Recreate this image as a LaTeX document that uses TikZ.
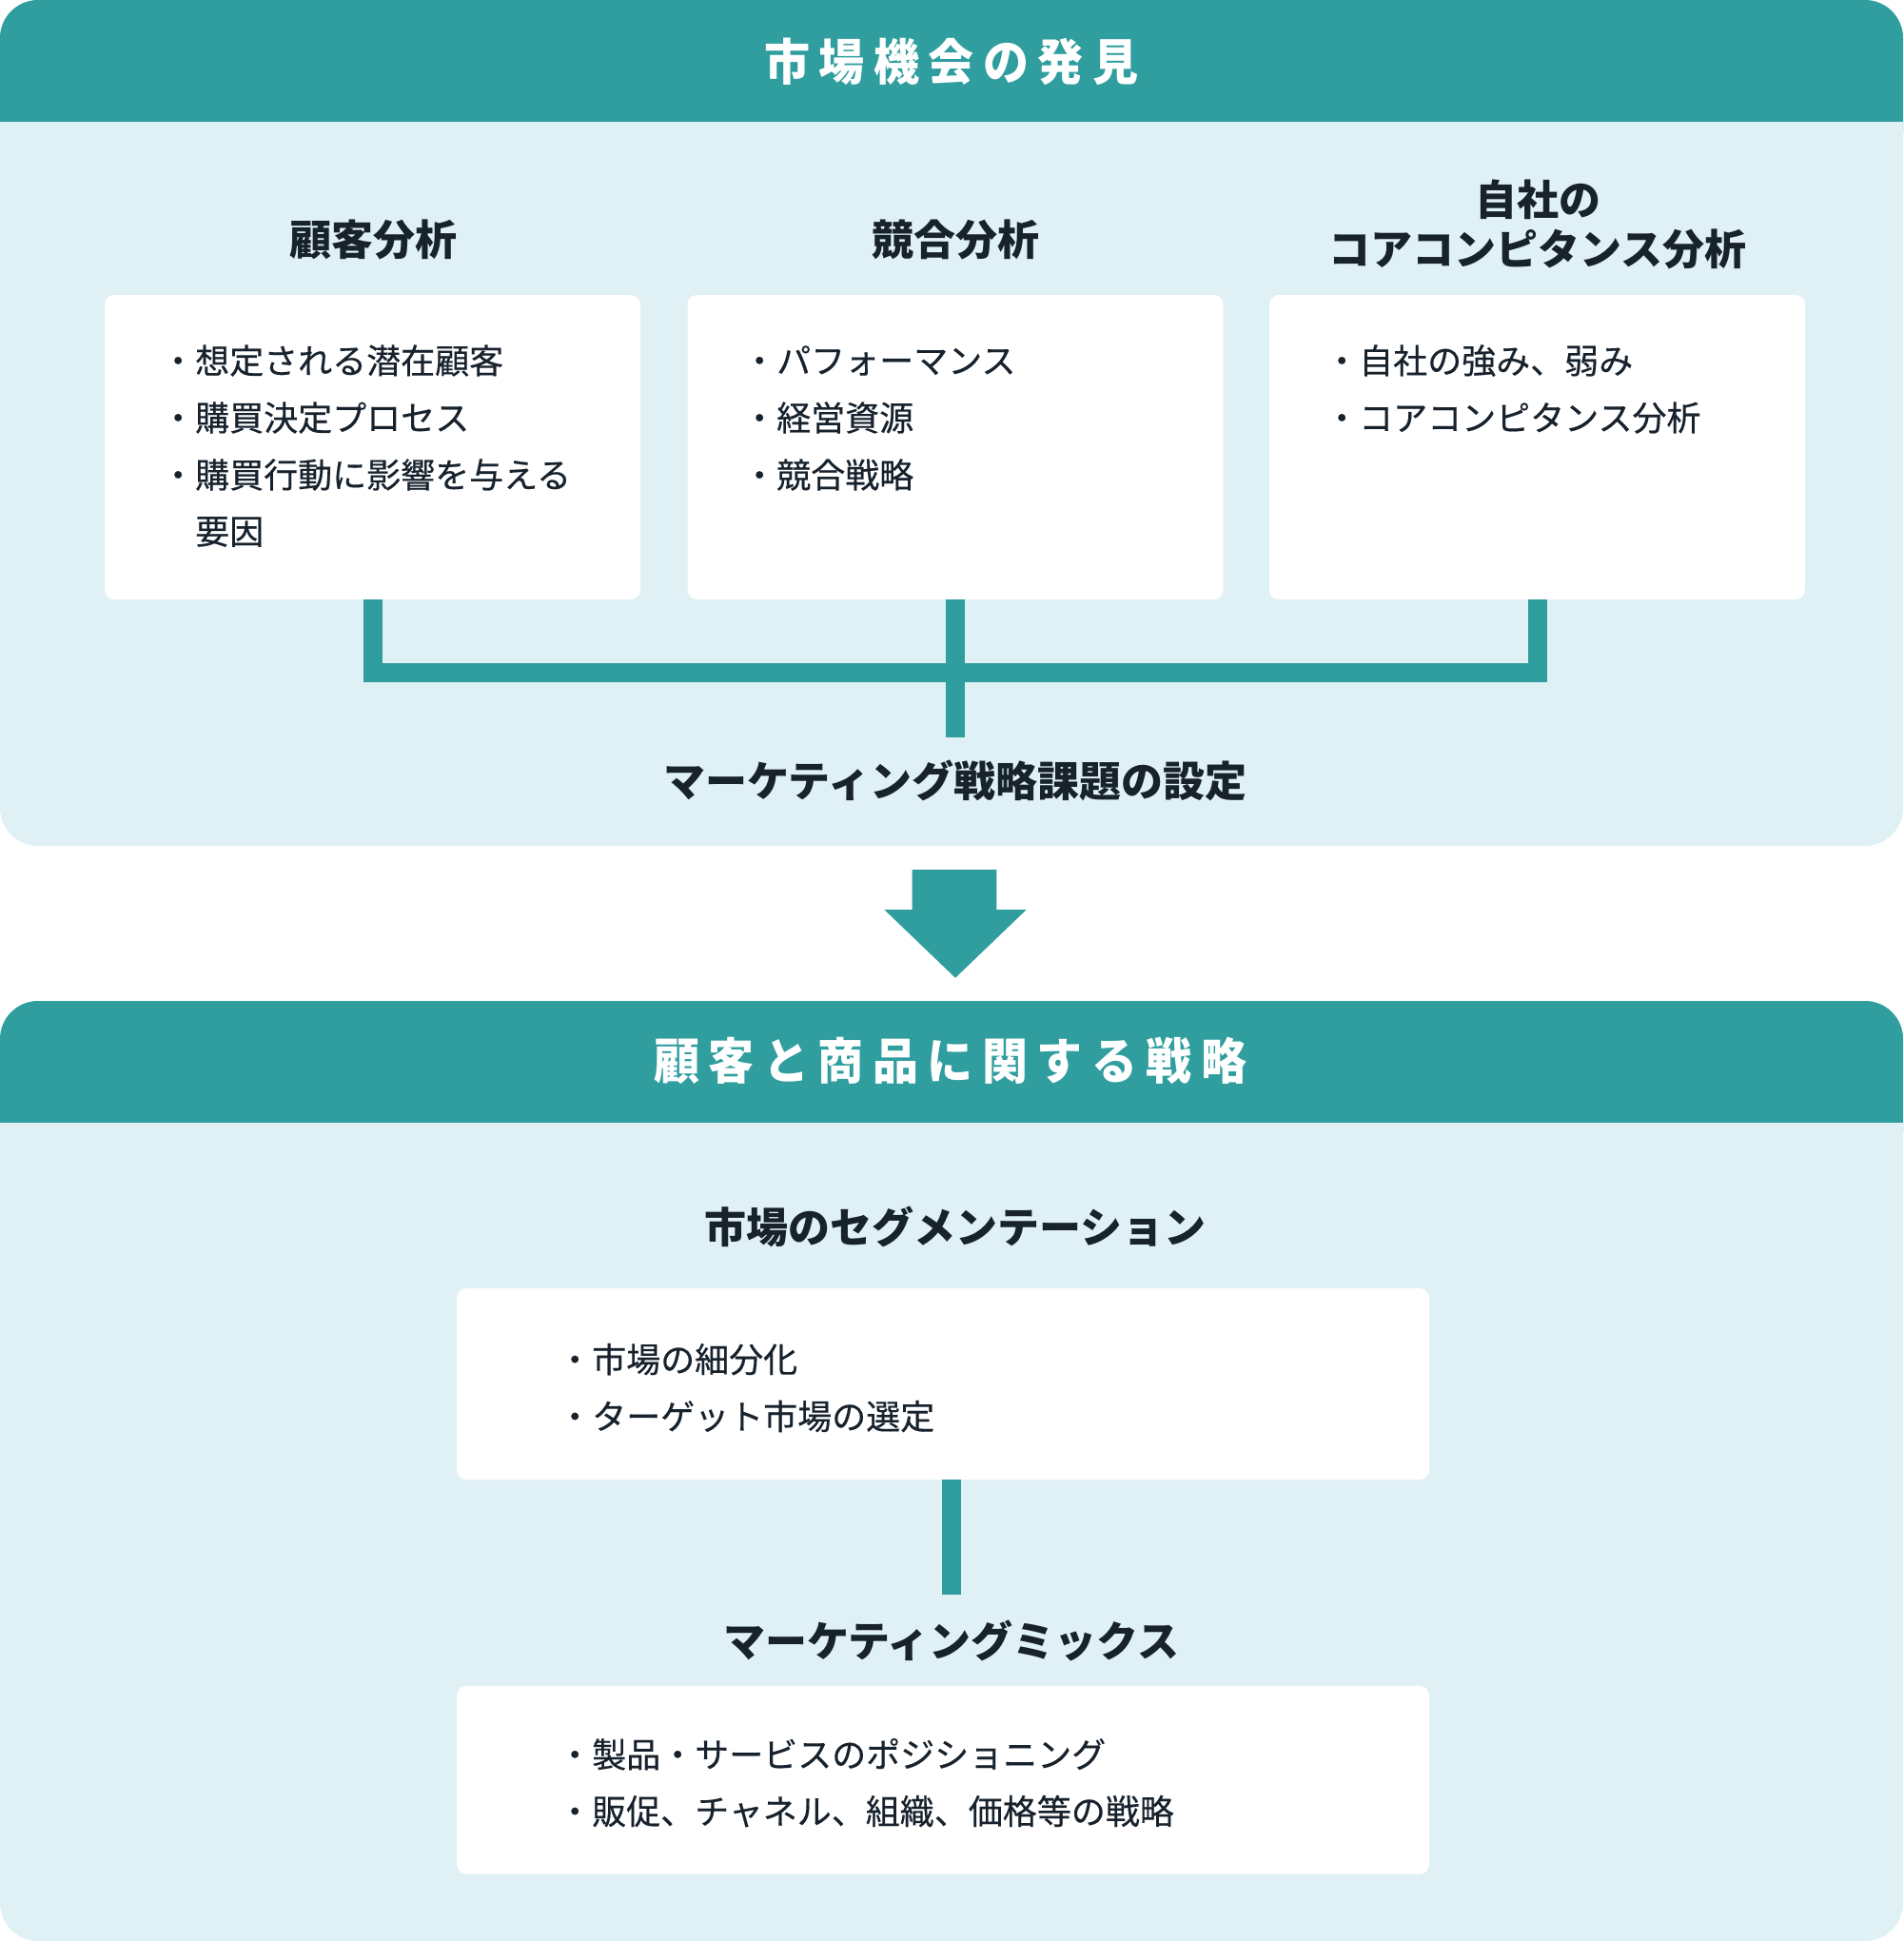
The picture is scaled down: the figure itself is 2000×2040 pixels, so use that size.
\documentclass[tikz,border=0pt]{standalone}
\usepackage{graphicx}
\usepackage{fontspec}
\setmainfont{Noto Sans CJK JP}
\newfontfamily\itemfont{Noto Sans CJK JP}[FakeBold=0.4]
\usetikzlibrary{calc}
\definecolor{mteal}{HTML}{309D9F}
\definecolor{mlight}{HTML}{DFF1F5}
\definecolor{mink}{HTML}{17222D}
\newcommand\lsp{\kern9.5pt}
\newcommand\tallhdr[1]{\scalebox{1}[1.08]{#1}}
\begin{document}
\begin{tikzpicture}[x=1pt,y=-1pt,
  hdrtext/.style={inner sep=0pt, text=white, font=\fontsize{48}{58}\selectfont\bfseries},
  title/.style={inner sep=0pt, text=mink, align=center, font=\fontsize{44}{52}\selectfont\bfseries},
  card/.style={rectangle, fill=white, rounded corners=10pt, inner sep=0pt, minimum width=563pt, minimum height=320pt},
  wcard/.style={rectangle, fill=white, rounded corners=10pt, inner sep=0pt, minimum width=1022pt},
  item/.style={anchor=west, inner sep=0pt, text=mink, font=\itemfont\fontsize{36}{36}\selectfont},
  conn/.style={draw=mteal, line width=20pt, line join=miter}]
\useasboundingbox (0,0) rectangle (2000,2040);

% ---------- top panel ----------
\fill[mlight, rounded corners=40pt] (0,0) rectangle (2000,889);
\fill[mteal, rounded corners=40pt] (0,0) rectangle (2000,180);
\fill[mlight] (0,127.5) rectangle (2000,200);
\node[hdrtext] (h1) at (1000,65) {\tallhdr{市\lsp 場\lsp 機\lsp 会\lsp の\lsp 発\lsp 見}};

\node[title] (t1) at (392,252) {顧客分析};
\node[title] (t2) at (1004,252) {競合分析};
\node[title] (t3) at (1616,236) {自社の\\コアコンピタンス分析};

\node[card] (c1) at (391.5,470) {};
\node[card] (c2) at (1004,470) {};
\node[card] (c3) at (1615.5,470) {};

\node[item] (i11) at (169,379) {・想定される潜在顧客};
\node[item] (i12) at (169,439) {・購買決定プロセス};
\node[item] (i13) at (169,499) {・購買行動に影響を与える};
\node[item] (i14) at (205,559) {要因};

\node[item] (i21) at (780,379) {・パフォーマンス};
\node[item] (i22) at (780,439) {・経営資源};
\node[item] (i23) at (780,499) {・競合戦略};

\node[item] (i31) at (1392,379) {・自社の強み、弱み};
\node[item] (i32) at (1392,439) {・コアコンピタンス分析};

\coordinate (k1) at ($(c1.south)+(0,77)$);
\coordinate (k3) at ($(c3.south)+(0,77)$);
\coordinate (stem) at ($(c2.south)+(0,145)$);
\draw[conn] (c1.south) -- (k1) -- (k3) -- (c3.south);
\draw[conn] (c2.south) -- (stem);

\node[title] (t0) at (1004,820) {マーケティング戦略課題の設定};

% ---------- arrow ----------
\fill[mteal] (958.7,914) -- (1047.3,914) -- (1047.3,956) -- (1078.7,956)
  -- (1004,1027.7) -- (929.3,956) -- (958.7,956) -- cycle;

% ---------- bottom panel ----------
\fill[mlight, rounded corners=40pt] (0,1052) rectangle (2000,2040);
\fill[mteal, rounded corners=40pt] (0,1052) rectangle (2000,1230);
\fill[mlight] (0,1179.5) rectangle (2000,1250);
\node[hdrtext] (h2) at (999,1115) {\tallhdr{顧\lsp 客\lsp と\lsp 商\lsp 品\lsp に\lsp 関\lsp す\lsp る\lsp 戦\lsp 略}};

\node[title] (t4) at (1004,1289) {市場のセグメンテーション};
\node[wcard, minimum height=201pt] (bA) at (991,1454.5) {};
\node[item] (a1) at (586,1428.6) {・市場の細分化};
\node[item] (a2) at (586,1488.5) {・ターゲット市場の選定};

\node[title] (t5) at (1000,1724) {マーケティングミックス};
\node[wcard, minimum height=197.5pt] (bB) at (991,1870.75) {};
\node[item] (b1) at (586,1843.7) {・製品・サービスのポジショニング};
\node[item] (b2) at (586,1903.6) {・販促、チャネル、組織、価格等の戦略};

\coordinate (sA) at (bA.south -| t5.center);
\coordinate (eA) at ($(sA)+(0,121)$);
\draw[conn] (sA) -- (eA);
\end{tikzpicture}
\end{document}
